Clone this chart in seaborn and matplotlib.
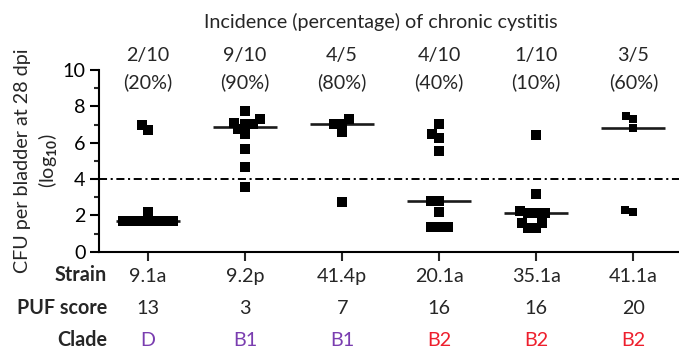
import numpy as np
import pandas as pd
import matplotlib
matplotlib.use("Agg")
import matplotlib.pyplot as plt
from matplotlib.path import Path
from matplotlib.transforms import Affine2D
import seaborn as sns

# ---------------- data ----------------
strains = ["9.1a", "9.2p", "41.4p", "20.1a", "35.1a", "41.1a"]
puf_scores = ["13", "3", "7", "16", "16", "20"]
clades = ["D", "B1", "B1", "B2", "B2", "B2"]
incidence = ["2/10", "9/10", "4/5", "4/10", "1/10", "3/5"]
incidence_pct = ["(20%)", "(90%)", "(80%)", "(40%)", "(10%)", "(60%)"]

cfu_9_1a = [7.0, 6.7, 2.2, 1.7, 1.7, 1.7, 1.7, 1.7, 1.7, 1.7]
cfu_9_2p = [7.74, 7.29, 7.10, 7.03, 7.03, 6.73, 6.48, 5.63, 4.64, 3.54]
cfu_41_4p = [7.30, 7.03, 7.03, 6.59, 2.72]
cfu_20_1a = [7.01, 6.48, 6.24, 5.54, 2.81, 2.81, 2.17, 1.34, 1.34, 1.34]
cfu_35_1a = [6.41, 3.17, 2.26, 2.11, 2.11, 2.11, 1.60, 1.60, 1.29, 1.29]
cfu_41_1a = [7.49, 7.30, 6.81, 2.29, 2.18]
chronic_threshold = 4

series = [cfu_9_1a, cfu_9_2p, cfu_41_4p, cfu_20_1a, cfu_35_1a, cfu_41_1a]
df = pd.DataFrame({
    "strain": np.repeat(strains, [len(s) for s in series]),
    "cfu": np.concatenate(series),
})

# ---------------- style ----------------
sns.set_style("ticks")
FONT = ["Lato", "DejaVu Sans"]
plt.rcParams["font.family"] = FONT
plt.rcParams["mathtext.fontset"] = "custom"
plt.rcParams["mathtext.rm"] = "Lato"
plt.rcParams["mathtext.bf"] = "Lato:bold"
plt.rcParams["lines.scale_dashes"] = False
FS = 14.2
PURPLE = "#7a3db0"
RED = "#ee1f2d"
clade_colors = {"D": PURPLE, "B1": PURPLE, "B2": RED}

W, H = 679, 351
fig = plt.figure(figsize=(W / 100, H / 100), dpi=100)
ax_left, ax_bottom_px, ax_top_px = 99, 251.7, 70
ax = fig.add_axes([ax_left / W, 1 - ax_bottom_px / H, (W - ax_left) / W,
                   (ax_bottom_px - ax_top_px) / H])

# median lines
sns.boxplot(data=df, x="strain", y="cfu", order=strains, ax=ax,
            showbox=False, showcaps=False, showfliers=False,
            whiskerprops={"visible": False},
            medianprops={"color": "#1a1a1a", "linewidth": 1.9},
            width=0.66)

SWARM = 5.7
n_before = len(ax.collections)
sns.swarmplot(data=df, x="strain", y="cfu", order=strains, ax=ax,
              marker="s", size=SWARM, color="black", linewidth=0, zorder=3)

# enlarge the square glyphs (swarm spacing stays as computed)
for coll in ax.collections[n_before:]:
    idx = int(round(np.mean(coll.get_offsets()[:, 0])))
    k = (5.3 if strains[idx] == "41.1a" else 7.3) / SWARM
    sq = Path.unit_rectangle().transformed(
        Affine2D().translate(-0.5, -0.5).scale(k))
    coll.set_paths([sq])
    coll.set_clip_on(False)

# chronic cystitis threshold
ax.axhline(chronic_threshold, color="black", lw=1.4,
           dashes=(5.8, 2.6, 1.5, 2.6), zorder=2)

# axes
ax.set_xlim(-0.505, 5.47)
ax.set_ylim(0, 10)
ax.set_yticks(np.arange(0, 11, 2))
ax.set_yticks(np.arange(1, 10, 2), minor=True)
ax.set_xticks(range(len(strains)))
ax.set_xticklabels(strains, fontsize=FS)
ax.tick_params(axis="y", which="major", length=6.8, width=1.5, pad=3,
               labelsize=FS, colors="black")
ax.tick_params(axis="y", which="minor", length=3.8, width=1.5)
ax.tick_params(axis="x", which="major", length=6.5, width=1.5, pad=5,
               labelsize=FS)
ax.set_xlabel("")
ax.set_ylabel("")
for s in ["top", "right"]:
    ax.spines[s].set_visible(False)
for s in ["left", "bottom"]:
    ax.spines[s].set_linewidth(1.5)
    ax.spines[s].set_color("black")
ax.set_facecolor("none")

trans = ax.get_xaxis_transform()
ah = ax_bottom_px - ax_top_px
for i in range(len(strains)):
    ax.text(i, 1 + 14 / ah, incidence[i], ha="center", va="center",
            fontsize=FS, transform=trans, clip_on=False)
    ax.text(i, 1 - 12 / ah, incidence_pct[i], ha="center", va="center",
            fontsize=FS, transform=trans, clip_on=False)
    ax.text(i, -(308 - ax_bottom_px) / ah, puf_scores[i], ha="center",
            va="center", fontsize=FS, transform=trans, clip_on=False)
    ax.text(i, -(340 - ax_bottom_px) / ah, clades[i], ha="center",
            va="center", fontsize=FS, transform=trans, clip_on=False,
            color=clade_colors[clades[i]])

for lab, ypx in [("Strain", 275), ("PUF score", 308), ("Clade", 340)]:
    fig.text(107 / W, 1 - ypx / H, lab, ha="right", va="center",
             fontsize=FS, fontweight="bold")

fig.text(381 / W, 1 - 22 / H, "Incidence (percentage) of chronic cystitis",
         ha="center", va="center", fontsize=FS)

fig.text(37 / W, 1 - 161 / H, "CFU per bladder at 28 dpi\n(log$_{\\mathbf{10}}$)",
         rotation=90, ha="center", va="center", fontsize=FS,
         multialignment="center", linespacing=1.3)

fig.savefig("out.png", dpi=100)
